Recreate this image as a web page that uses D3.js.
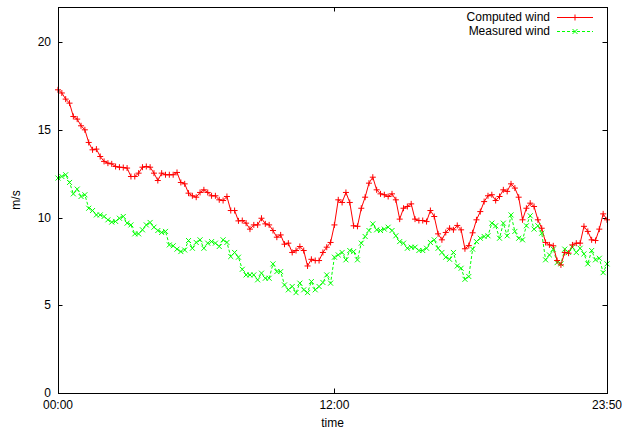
<!DOCTYPE html>
<html>
<head>
<meta charset="utf-8">
<script src="https://cdn.jsdelivr.net/npm/d3@7"></script>
<style>
  body { margin: 0; background: #fff; }
  text { font-family: "Liberation Sans", Arial, sans-serif; font-size: 12px; fill: #000; }
</style>
</head>
<body>
<div id="container"></div>
<script>
// 10-minute samples, 00:00 .. 23:50
var minutes = d3.range(0, 1440, 10);

var computed = [17.28,17.10,16.75,16.52,15.76,15.61,15.23,15.00,14.28,13.86,
  13.90,13.48,13.20,13.10,13.06,12.91,12.87,12.85,12.82,12.34,
  12.34,12.53,12.87,12.91,12.87,12.53,12.11,12.53,12.44,12.44,
  12.44,12.57,12.00,11.92,11.39,11.24,11.16,11.43,11.58,11.43,
  11.24,11.24,11.01,10.97,11.20,10.40,10.40,9.81,9.83,9.68,
  9.34,9.58,9.58,9.96,9.64,9.58,9.26,8.88,9.01,8.48,
  8.54,8.01,8.12,8.35,8.12,7.24,7.62,7.55,7.55,8.01,
  8.31,8.58,9.58,11.01,10.86,11.43,10.86,9.53,9.50,10.53,
  11.16,11.96,12.30,11.58,11.35,11.30,11.20,11.35,11.01,9.91,
  10.53,10.63,10.78,9.91,9.83,9.83,9.77,10.40,10.06,9.07,
  8.73,9.15,9.39,9.30,9.55,9.30,8.22,8.40,9.13,9.87,
  10.34,10.91,11.24,11.30,10.97,11.20,11.58,11.49,11.92,11.68,
  11.16,9.87,10.53,10.82,10.63,9.87,9.39,8.58,8.44,8.39,
  7.55,7.30,8.01,7.97,8.44,8.54,8.54,9.50,9.21,8.73,
  8.69,9.34,10.21,9.87];

var measured = [12.25,12.34,12.44,12.00,11.35,11.62,11.20,11.30,10.53,10.40,
  10.15,10.15,10.06,9.87,9.74,9.78,9.96,10.06,9.68,9.58,
  9.07,9.07,9.30,9.58,9.72,9.45,9.26,9.15,9.21,8.44,
  8.39,8.20,8.06,8.15,8.69,8.25,8.58,8.73,8.25,8.54,
  8.63,8.54,8.35,8.73,8.58,7.78,8.01,7.74,7.05,6.73,
  6.73,6.73,6.45,6.83,6.54,6.54,7.36,6.92,6.92,6.16,
  5.88,6.07,5.72,6.26,5.88,5.72,6.35,5.88,6.07,6.30,
  6.73,6.26,7.74,7.87,8.01,7.59,8.12,8.06,7.59,8.54,
  8.92,9.26,9.64,9.30,9.26,9.34,9.45,9.26,8.96,8.63,
  8.54,8.25,8.31,8.31,8.12,8.12,8.25,8.58,8.73,8.25,
  8.01,7.74,7.62,8.01,7.24,7.11,6.48,6.64,8.20,8.63,
  8.82,8.92,8.96,9.68,9.53,8.82,9.68,8.96,10.15,9.21,
  8.82,8.73,9.53,10.10,9.34,9.53,9.11,7.59,7.87,8.20,
  7.43,7.36,8.20,8.01,8.31,8.01,8.25,7.93,7.36,8.12,
  7.59,7.68,6.86,7.36];

var yTicks = [0, 5, 10, 15, 20];
var xTicks = [0, 720, 1430];
var xTickLabels = ["00:00", "12:00", "23:50"];

var W = 622, H = 432;
var pLeft = 58, pRight = 607, pTop = 7, pBottom = 393;

var svg = d3.select("#container").append("svg")
            .attr("width", W).attr("height", H);

var x = d3.scaleLinear().domain([0, 1430]).range([pLeft, pRight]);
var y = d3.scaleLinear().domain([0, 22]).range([pBottom, pTop]);

// tick marks (inward, mirrored)
var tickLen = 4.5;
var axisG = svg.append("g").attr("stroke", "#000").attr("stroke-width", 1);
yTicks.forEach(function(v){
    var yy = Math.round(y(v)) + 0.5;
    axisG.append("line").attr("x1", pLeft).attr("x2", pLeft + tickLen).attr("y1", yy).attr("y2", yy);
    axisG.append("line").attr("x1", pRight).attr("x2", pRight - tickLen).attr("y1", yy).attr("y2", yy);
});
xTicks.forEach(function(v){
    var xx = Math.round(x(v)) + 0.5;
    axisG.append("line").attr("x1", xx).attr("x2", xx).attr("y1", pBottom).attr("y2", pBottom - tickLen);
    axisG.append("line").attr("x1", xx).attr("x2", xx).attr("y1", pTop).attr("y2", pTop + tickLen);
});

svg.append("g").selectAll("text").data(yTicks).enter().append("text")
   .attr("x", pLeft - 7).attr("y", function(d){ return y(d); })
   .attr("dy", "0.35em").attr("text-anchor", "end")
   .text(function(d){ return d; });

svg.append("g").selectAll("text").data(xTicks).enter().append("text")
   .attr("x", function(d){ return x(d); }).attr("y", pBottom + 16)
   .attr("text-anchor", "middle")
   .text(function(d, i){ return xTickLabels[i]; });

svg.append("text").attr("x", (pLeft + pRight) / 2).attr("y", 427)
   .attr("text-anchor", "middle").text("time");
svg.append("text").attr("transform", "translate(20,200) rotate(-90)")
   .attr("text-anchor", "middle").text("m/s");

// series
var lineGen = function(vals){
    return d3.line().x(function(d, i){ return x(minutes[i]); })
                    .y(function(d){ return y(d); })(vals);
};

var plot = svg.append("g");
plot.append("path").attr("d", lineGen(measured))
    .attr("fill", "none").attr("stroke", "#00ff00").attr("stroke-width", 1)
    .attr("stroke-dasharray", "3,2");
plot.append("path").attr("d", lineGen(computed))
    .attr("fill", "none").attr("stroke", "#ff0000").attr("stroke-width", 1);

var m = 2.5;
function cross(cx, cy){
    return "M" + (cx - m) + "," + (cy - m) + "L" + (cx + m) + "," + (cy + m) +
           "M" + (cx - m) + "," + (cy + m) + "L" + (cx + m) + "," + (cy - m);
}
function plus(cx, cy){
    return "M" + (cx - 3) + "," + cy + "L" + (cx + 3) + "," + cy +
           "M" + cx + "," + (cy - 3) + "L" + cx + "," + (cy + 3);
}

plot.append("g").selectAll("path").data(measured).enter().append("path")
    .attr("d", function(d, i){ return cross(x(minutes[i]), y(d)); })
    .attr("stroke", "#00ff00").attr("stroke-width", 1);
plot.append("g").selectAll("path").data(computed).enter().append("path")
    .attr("d", function(d, i){ return plus(x(minutes[i]), y(d)); })
    .attr("stroke", "#ff0000").attr("stroke-width", 1);

// frame
svg.append("rect").attr("x", pLeft + 0.5).attr("y", pTop + 0.5)
   .attr("width", pRight - pLeft).attr("height", pBottom - pTop)
   .attr("fill", "none").attr("stroke", "#000").attr("stroke-width", 1);

// legend
var legend = [
    {name: "Computed wind", color: "#ff0000", dash: null, y: 17},
    {name: "Measured wind", color: "#00ff00", dash: "3,2", y: 31}
];
legend.forEach(function(l){
    svg.append("text").attr("x", 550).attr("y", l.y).attr("dy", "0.35em")
       .attr("text-anchor", "end").text(l.name);
    svg.append("line").attr("x1", 557).attr("x2", 593).attr("y1", l.y + 0.5).attr("y2", l.y + 0.5)
       .attr("stroke", l.color).attr("stroke-dasharray", l.dash);
    svg.append("path").attr("d", l.dash ? cross(575, l.y + 0.5) : plus(575, l.y + 0.5))
       .attr("stroke", l.color);
});
</script>
</body>
</html>
